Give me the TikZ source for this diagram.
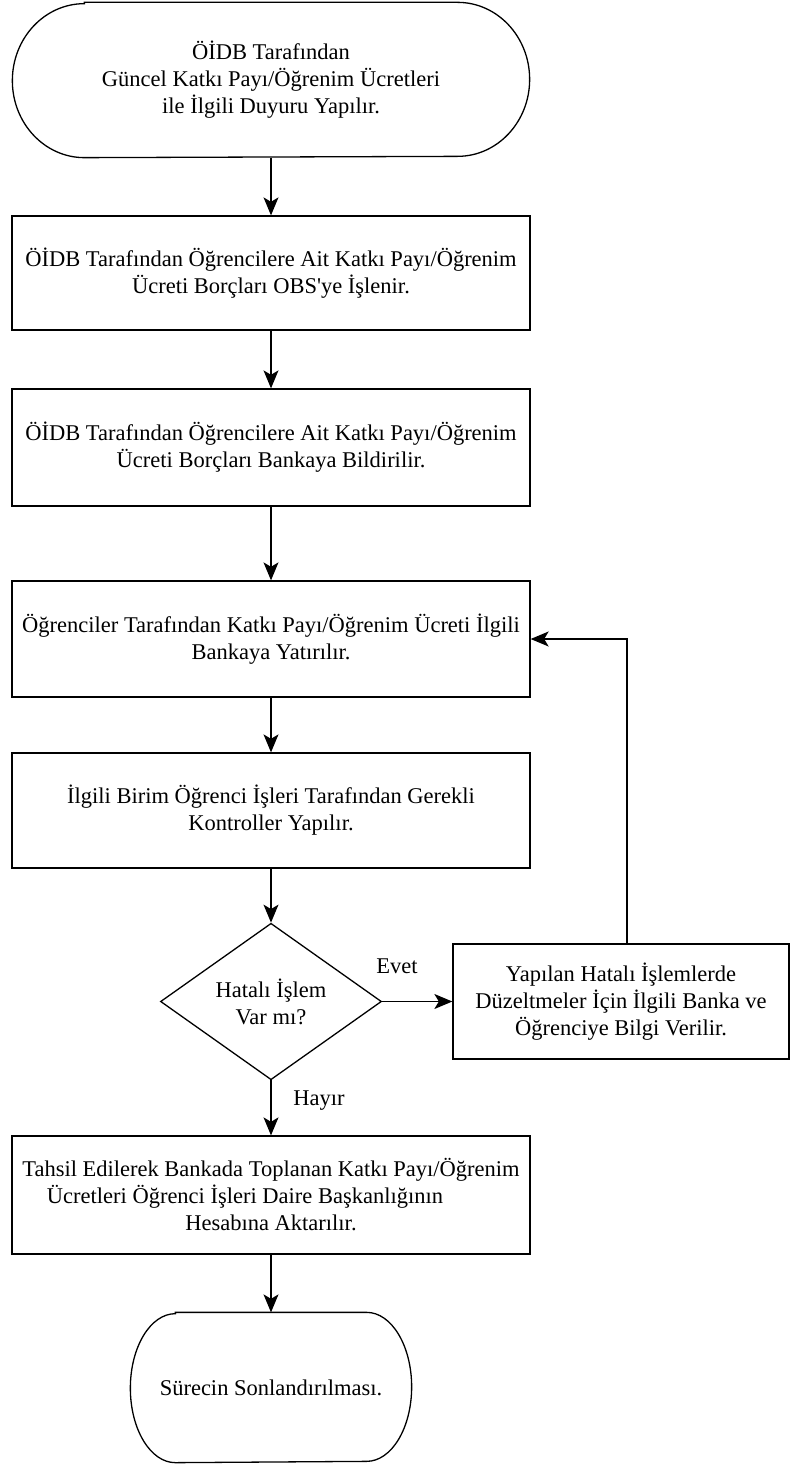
\documentclass[tikz,border=0pt]{standalone}
\usepackage{fontspec}
\setmainfont{Liberation Serif}
\usetikzlibrary{shapes.geometric,arrows.meta}

\begin{document}
\begin{tikzpicture}[x=1pt,y=-1pt,
  line width=1.3pt,
  txt/.style={font=\fontsize{22.5}{27}\selectfont, align=center},
  box/.style={txt, draw, minimum width=518pt, inner sep=0pt},
  term/.style={txt, minimum width=516pt, minimum height=154pt, inner sep=0pt},
  karar/.style={txt, draw, diamond, minimum width=221pt, minimum height=153pt, inner sep=0pt},
  ok/.style={-{Stealth[length=18pt,width=15pt,inset=4.5pt]}}]

\useasboundingbox (0,0) rectangle (791,1464);

% start
\node[term] (start) at (271,80) {ÖİDB Tarafından\\Güncel Katkı Payı/Öğrenim Ücretleri\\ile İlgili Duyuru Yapılır.};
\draw ([xshift=72pt]start.north west) -- ([xshift=-72pt]start.north east)
  arc[start angle=90,end angle=-90,x radius=72pt,y radius=77pt]
  -- ([xshift=72pt]start.south west)
  arc[start angle=270,end angle=90,x radius=72pt,y radius=77pt] -- cycle;

\node[box, minimum height=114pt] (obs) at (271,273) {ÖİDB Tarafından Öğrencilere Ait Katkı Payı/Öğrenim\\Ücreti Borçları OBS\textquotesingle ye İşlenir.};
\node[box, minimum height=117pt] (banka) at (271,447.5) {ÖİDB Tarafından Öğrencilere Ait Katkı Payı/Öğrenim\\Ücreti Borçları Bankaya Bildirilir.};
\node[box, minimum height=116pt] (odeme) at (271,639) {Öğrenciler Tarafından Katkı Payı/Öğrenim Ücreti İlgili\\Bankaya Yatırılır.};
\node[box, minimum height=115pt] (kontrol) at (271,810.5) {İlgili Birim Öğrenci İşleri Tarafından Gerekli\\Kontroller Yapılır.};

\node[karar] (hata) at (271,1001.5) {Hatalı İşlem\\Var mı?};
\node[txt, draw, minimum width=336pt, minimum height=115pt, inner sep=0pt] (duzelt) at (621,1001.5) {Yapılan Hatalı İşlemlerde\\Düzeltmeler İçin İlgili Banka ve\\Öğrenciye Bilgi Verilir.};

\node[box, minimum height=118pt] (aktar) at (271,1195) {Tahsil Edilerek Bankada Toplanan Katkı Payı/Öğrenim\\Ücretleri Öğrenci İşleri Daire Başkanlığının\hspace*{52pt}\null\\Hesabına Aktarılır.};

% end
\node[term, minimum width=280pt, minimum height=149pt] (son) at (271,1387.5) {Sürecin Sonlandırılması.};
\draw ([xshift=45pt]son.north west) -- ([xshift=-45pt]son.north east)
  arc[start angle=90,end angle=-90,x radius=45pt,y radius=74.5pt]
  -- ([xshift=45pt]son.south west)
  arc[start angle=270,end angle=90,x radius=45pt,y radius=74.5pt] -- cycle;

\node[txt] (evet) at (397,966) {Evet};
\node[txt] (hayir) at (319,1101) {Hayır};

\draw[ok] (start.south) -- (obs.north);
\draw[ok] (obs.south) -- (banka.north);
\draw[ok] (banka.south) -- (odeme.north);
\draw[ok] (odeme.south) -- (kontrol.north);
\draw[ok] (kontrol.south) -- (hata.north);
\draw[ok] (hata.east) -- (duzelt.west);
\draw[ok] (hata.south) -- (aktar.north);
\draw[ok] (aktar.south) -- (son.north);
\draw[ok] ([xshift=6pt]duzelt.north) |- (odeme.east);

\end{tikzpicture}
\end{document}
